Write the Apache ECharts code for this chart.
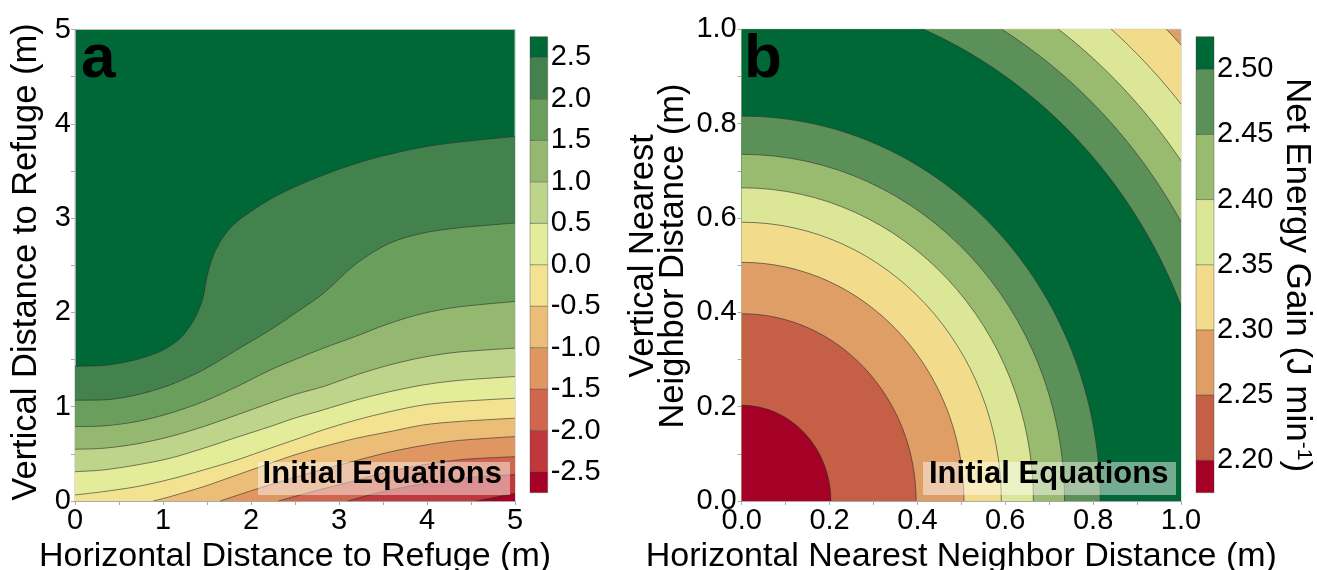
<!DOCTYPE html>
<html>
<head>
<meta charset="utf-8">
<script src="https://cdn.jsdelivr.net/npm/echarts@6/dist/echarts.min.js"></script>
<style>
  html, body { margin: 0; padding: 0; background: #ffffff; }
  #chart { width: 1317px; height: 570px; }
</style>
</head>
<body>
<div id="chart"></div>
<script>
// ---------- Panel a: net energy gain vs. distance to refuge ----------
// Contour levels (J min^-1), lowest first
const levelsA = [-2.5, -2.0, -1.5, -1.0, -0.5, 0.0, 0.5, 1.0, 1.5, 2.0, 2.5];
// Colour of each band, lowest band (< -2.5) to highest band (> 2.5)
const bandColorsA = ['#a50026', '#c0383b', '#d0664d', '#df9661', '#ebbd77', '#f3e391',
                     '#e3ec98', '#bdd48a', '#94b870', '#6a9e5c', '#43824d', '#006837'];
const colorbarRangeA = [-2.75, 2.75];

// Contour lines, [horizontal m, vertical m]
const contourA_m25 = [[4.56, 0], [4.8, 0.045], [5, 0.08]];
const contourA_m20 = [[3.1, 0], [3.5, 0.1], [4.0, 0.19], [4.5, 0.25], [5, 0.28]];
const contourA_m15 = [[2.31, 0], [2.7, 0.1], [3.2, 0.22], [3.6, 0.32], [4.0, 0.39], [4.4, 0.44], [5, 0.47]];
const contourA_m10 = [[1.65, 0], [2.03, 0.117], [2.4, 0.223], [2.8, 0.33], [3.2, 0.43], [3.58, 0.52],
                      [3.96, 0.59], [4.34, 0.64], [5, 0.683]];
const contourA_m05 = [[0.89, 0], [1.08, 0.046], [1.46, 0.152], [1.84, 0.276], [2.22, 0.4], [2.5, 0.49],
                      [2.82, 0.576], [3.2, 0.666], [3.58, 0.736], [3.96, 0.807], [4.34, 0.842], [5, 0.878]];
const contourA_p00 = [[0, 0.064], [0.32, 0.099], [0.7, 0.152], [1.08, 0.23], [1.46, 0.329], [1.84, 0.435],
                      [2.22, 0.56], [2.5, 0.65], [2.82, 0.754], [3.2, 0.86], [3.58, 0.948], [3.96, 1.019],
                      [4.34, 1.054], [5, 1.09]];
const contourA_p05 = [[0, 0.311], [0.32, 0.329], [0.7, 0.382], [1.08, 0.453], [1.46, 0.559], [1.84, 0.676],
                      [2.22, 0.79], [2.5, 0.88], [2.82, 0.966], [3.2, 1.072], [3.58, 1.16], [3.96, 1.231],
                      [4.34, 1.277], [5, 1.32]];
const contourA_p10 = [[0, 0.549], [0.32, 0.559], [0.7, 0.605], [1.08, 0.683], [1.46, 0.789], [1.84, 0.913],
                      [2.22, 1.04], [2.5, 1.13], [2.82, 1.213], [3.2, 1.338], [3.58, 1.444], [3.96, 1.525],
                      [4.34, 1.578], [5, 1.621]];
const contourA_p15 = [[0, 0.789], [0.32, 0.796], [0.7, 0.842], [1.08, 0.931], [1.46, 1.054], [1.84, 1.213],
                      [2.22, 1.39], [2.5, 1.5], [2.82, 1.62], [3.2, 1.75], [3.58, 1.886], [3.96, 1.99],
                      [4.34, 2.056], [5, 2.116]];
const contourA_p20 = [[0, 1.069], [0.32, 1.072], [0.7, 1.125], [1.08, 1.231], [1.46, 1.391], [1.84, 1.603],
                      [2.22, 1.815], [2.5, 1.99], [2.82, 2.2], [3.2, 2.52], [3.58, 2.736], [3.96, 2.842],
                      [4.34, 2.895], [5, 2.948]];
const contourA_p25 = [[0, 1.43], [0.35, 1.44], [0.7, 1.5], [1.0, 1.6], [1.2, 1.73], [1.35, 1.92],
                      [1.45, 2.14], [1.5, 2.38], [1.57, 2.6], [1.67, 2.78], [1.8, 2.93], [2.0, 3.07],
                      [2.2, 3.19], [2.45, 3.31], [2.75, 3.43], [3.1, 3.55], [3.5, 3.66], [4.0, 3.76],
                      [4.5, 3.82], [5, 3.865]];
const contoursA = [contourA_m25, contourA_m20, contourA_m15, contourA_m10, contourA_m05, contourA_p00,
                   contourA_p05, contourA_p10, contourA_p15, contourA_p20, contourA_p25];

// ---------- Panel b: net energy gain vs. nearest-neighbour spacing ----------
const levelsB = [2.20, 2.25, 2.30, 2.35, 2.40, 2.45, 2.50];
const bandColorsB = ['#a50026', '#c55f45', '#df9e66', '#f2dc8b', '#dbe796', '#99bb70', '#5b9158', '#006837'];
const colorbarRangeB = [2.175, 2.525];
// Radius (m) of each circular contour, rising side and falling side of the ridge
const innerRadiiB = [0.203, 0.397, 0.506, 0.591, 0.664, 0.735, 0.816];   // levels 2.20 ... 2.50
const outerLevelsB = [2.50, 2.45, 2.40, 2.35, 2.30];
const outerRadiiB = [1.082, 1.162, 1.233, 1.307, 1.391];

// Tick positions
const ticksA = [0, 1, 2, 3, 4, 5];
const ticksB = [0.0, 0.2, 0.4, 0.6, 0.8, 1.0];

const FONT = '"Liberation Sans", Arial, Helvetica, sans-serif';
const AXIS_GREY = '#a9a9a9';
const LINE_STYLE = { color: '#2b2b2b', width: 0.8, opacity: 0.75 };

function plotAxis(gridIndex, ticks, decimals, extra) {
  return Object.assign({
    type: 'value',
    gridIndex: gridIndex,
    min: ticks[0],
    max: ticks[ticks.length - 1],
    interval: ticks[1] - ticks[0],
    axisLine: { show: true, onZero: false, lineStyle: { color: AXIS_GREY, width: 1 } },
    axisTick: { show: true, length: 4, lineStyle: { color: AXIS_GREY } },
    minorTick: { show: true, splitNumber: 2, length: 4, lineStyle: { color: AXIS_GREY } },
    splitLine: { show: false },
    minorSplitLine: { show: false },
    axisLabel: {
      color: '#000', fontFamily: FONT, fontSize: 29, margin: 5,
      formatter: v => Number(v).toFixed(decimals)
    }
  }, extra || {});
}

function colorbarAxis(gridIndex, range, levels, decimals) {
  return {
    type: 'value', gridIndex: gridIndex, position: 'right',
    min: range[0], max: range[1],
    axisLine: { show: false },
    splitLine: { show: false },
    axisTick: { show: true, length: 3, customValues: levels, lineStyle: { color: '#666' } },
    axisLabel: {
      customValues: levels, color: '#000', fontFamily: FONT, fontSize: 29, margin: 3,
      formatter: v => Number(v).toFixed(decimals)
    }
  };
}

function hiddenAxis(gridIndex) {
  return { type: 'value', gridIndex: gridIndex, min: 0, max: 1, show: false };
}

// Band list [lo, hi, colour index] for a colour bar
function colorbarBands(levels, range) {
  const bands = [];
  for (let k = 0; k <= levels.length; k++) {
    bands.push([k === 0 ? range[0] : levels[k - 1], k === levels.length ? range[1] : levels[k], k]);
  }
  return bands;
}

function colorbarSeries(axisIndex, levels, range, colors) {
  return {
    type: 'custom', xAxisIndex: axisIndex, yAxisIndex: axisIndex, silent: true,
    data: colorbarBands(levels, range),
    renderItem: function (params, api) {
      const p0 = api.coord([0, api.value(1)]);
      const p1 = api.coord([1, api.value(0)]);
      return {
        type: 'rect',
        shape: { x: p0[0], y: p0[1], width: p1[0] - p0[0], height: p1[1] - p0[1] },
        style: { fill: colors[api.value(2)], stroke: 'rgba(70,70,70,0.55)', lineWidth: 0.7 }
      };
    }
  };
}

// Panel a: each contour fills the region below it with the next lower band colour
const seriesA = contoursA.map((pts, j) => ({
  type: 'line', xAxisIndex: 0, yAxisIndex: 0, name: 'level ' + levelsA[j],
  data: pts, smooth: 0.3, symbol: 'none', silent: true,
  lineStyle: LINE_STYLE,
  areaStyle: { color: bandColorsA[j], opacity: 1, origin: 'start' }
})).reverse();

// Panel b: circular contours as nested discs, largest first
const discsB = [];
innerRadiiB.forEach((r, j) => discsB.push([r, j]));                          // inside: band below level
outerRadiiB.forEach((r, i) => discsB.push([r, levelsB.indexOf(outerLevelsB[i]) + 1])); // inside: band above level
discsB.sort((a, b) => b[0] - a[0]);
const outerBandB = levelsB.indexOf(outerLevelsB[outerLevelsB.length - 1]);

const seriesB = {
  type: 'custom', xAxisIndex: 1, yAxisIndex: 1, silent: true,
  data: discsB,
  renderItem: function (params, api) {
    const c = api.coord([0, 0]);
    const r = api.value(0);
    const rx = api.size([r, 0])[0];
    const ry = api.size([0, r])[1];
    const cs = params.coordSys;
    return {
      type: 'ellipse',
      z2: params.dataIndex,
      shape: { cx: c[0], cy: c[1], rx: rx, ry: ry },
      style: { fill: bandColorsB[api.value(1)], stroke: 'rgba(43,43,43,0.75)', lineWidth: 0.8 },
      clipPath: { type: 'rect', shape: { x: cs.x, y: cs.y, width: cs.width, height: cs.height } }
    };
  }
};

const option = {
  animation: false,
  backgroundColor: '#ffffff',
  textStyle: { fontFamily: FONT },
  grid: [
    { left: 75, top: 29.5, width: 440, height: 471.5, show: true, backgroundColor: bandColorsA[bandColorsA.length - 1],
      borderColor: '#bdbdbd', borderWidth: 1, outerBoundsMode: 'none' },
    { left: 741.7, top: 29.3, width: 439.3, height: 471.7, show: true, backgroundColor: bandColorsB[outerBandB],
      borderColor: '#bdbdbd', borderWidth: 1, outerBoundsMode: 'none' },
    { left: 530, top: 36.7, width: 17.7, height: 456, outerBoundsMode: 'none' },
    { left: 1196, top: 36.7, width: 18, height: 456, outerBoundsMode: 'none' }
  ],
  xAxis: [
    plotAxis(0, ticksA, 0, {
      name: 'Horizontal Distance to Refuge (m)', nameLocation: 'middle', nameGap: 31,
      nameTextStyle: { color: '#000', fontFamily: FONT, fontSize: 34 }
    }),
    plotAxis(1, ticksB, 1, {
      name: 'Horizontal Nearest Neighbor Distance (m)', nameLocation: 'middle', nameGap: 31,
      nameTextStyle: { color: '#000', fontFamily: FONT, fontSize: 34 }
    }),
    hiddenAxis(2),
    hiddenAxis(3)
  ],
  yAxis: [
    plotAxis(0, ticksA, 0, { axisLabel: { color: '#000', fontFamily: FONT, fontSize: 29, margin: 4,
      formatter: v => Number(v).toFixed(0) } }),
    plotAxis(1, ticksB, 1, { axisLabel: { color: '#000', fontFamily: FONT, fontSize: 29, margin: 5,
      formatter: v => Number(v).toFixed(1) } }),
    colorbarAxis(2, colorbarRangeA, levelsA, 1),
    colorbarAxis(3, colorbarRangeB, levelsB, 2)
  ],
  series: [].concat(
    seriesA,
    [seriesB,
     colorbarSeries(2, levelsA, colorbarRangeA, bandColorsA),
     colorbarSeries(3, levelsB, colorbarRangeB, bandColorsB)]
  ),
  graphic: [
    { type: 'text', x: 81, y: 60.2, z: 100,
      style: { text: 'a', fontFamily: FONT, fontSize: 62, fontWeight: 'bold', fill: '#000', align: 'left', verticalAlign: 'middle' } },
    { type: 'text', x: 744, y: 60.2, z: 100,
      style: { text: 'b', fontFamily: FONT, fontSize: 62, fontWeight: 'bold', fill: '#000', align: 'left', verticalAlign: 'middle' } },
    { type: 'rect', z: 100, shape: { x: 258, y: 462, width: 252, height: 33 },
      style: { fill: 'rgba(255,255,255,0.45)' } },
    { type: 'text', x: 382.3, y: 474.6, z: 101,
      style: { text: 'Initial Equations', fontFamily: FONT, fontSize: 31, fontWeight: 'bold', fill: '#000', align: 'center', verticalAlign: 'middle' } },
    { type: 'rect', z: 100, shape: { x: 923, y: 462, width: 253, height: 33 },
      style: { fill: 'rgba(255,255,255,0.45)' } },
    { type: 'text', x: 1048.7, y: 474.6, z: 101,
      style: { text: 'Initial Equations', fontFamily: FONT, fontSize: 31, fontWeight: 'bold', fill: '#000', align: 'center', verticalAlign: 'middle' } },
    { type: 'text', x: 26.5, y: 262, rotation: Math.PI / 2, z: 100,
      style: { text: 'Vertical Distance to Refuge (m)', fontFamily: FONT, fontSize: 34.5, fill: '#000', align: 'center', verticalAlign: 'middle' } },
    { type: 'text', x: 658, y: 256, rotation: Math.PI / 2, z: 100,
      style: { text: 'Vertical Nearest\nNeighbor Distance (m)', fontFamily: FONT, fontSize: 34.5, lineHeight: 30, fill: '#000', align: 'center', verticalAlign: 'middle' } },
    { type: 'text', x: 1297, y: 275, rotation: -Math.PI / 2, z: 100,
      style: {
        text: '{n|Net Energy Gain (J min}{s|-1}{n|)}', align: 'center', verticalAlign: 'middle', fill: '#000',
        rich: {
          n: { fontFamily: FONT, fontSize: 35, lineHeight: 35, fill: '#000' },
          s: { fontFamily: FONT, fontSize: 21, lineHeight: 35, verticalAlign: 'top', fill: '#000' }
        }
      } }
  ]
};

const chart = echarts.init(document.getElementById('chart'), null, { renderer: 'canvas' });
chart.setOption(option);
</script>
</body>
</html>
